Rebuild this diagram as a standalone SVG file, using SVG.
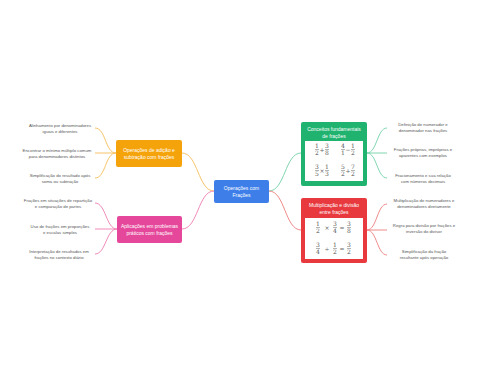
<svg xmlns="http://www.w3.org/2000/svg" width="480" height="384" viewBox="0 0 480 384">
<style>
.box{stroke:none}
.bt{font-family:"Liberation Sans",Arial,sans-serif;font-size:5px;fill:#fff;text-anchor:middle}
.lf{font-family:"Liberation Sans",Arial,sans-serif;font-size:4.3px;fill:#555;text-anchor:middle}
.fr{font-family:"DejaVu Serif","Liberation Serif",serif;font-size:6px;fill:#555;text-anchor:middle}
.op{font-family:"DejaVu Sans","Liberation Sans",sans-serif;font-size:6px;fill:#666;text-anchor:middle}
.bar{stroke:#666;stroke-width:0.5}
.c{fill:none;stroke-width:1}
</style>
<rect width="480" height="384" fill="#fff"/>
<g id="connectors">
<path class="c" stroke="#f7c46a" d="M214,191 C198,191 198,153 182,153"/>
<path class="c" stroke="#f08ab8" d="M214,191 C198,191 198,229 182,229"/>
<path class="c" stroke="#7fd6b0" d="M269,191 C285,191 285,153 301,153"/>
<path class="c" stroke="#f08a8a" d="M269,191 C285,191 285,230 301,230"/>
<path class="c" stroke="#f7c46a" d="M116,153 C105,153 106,128 95,128"/>
<path class="c" stroke="#f7c46a" d="M116,153 L95,153"/>
<path class="c" stroke="#f7c46a" d="M116,153 C105,153 106,178 95,178"/>
<path class="c" stroke="#f08ab8" d="M117,229 C106,229 106,203 95,203"/>
<path class="c" stroke="#f08ab8" d="M117,229 L95,229"/>
<path class="c" stroke="#f08ab8" d="M117,229 C106,229 106,254 95,254"/>
<path class="c" stroke="#7fd6b0" d="M367,153 C377,153 377,128 387,128"/>
<path class="c" stroke="#7fd6b0" d="M367,153 L387,153"/>
<path class="c" stroke="#7fd6b0" d="M367,153 C377,153 377,178 387,178"/>
<path class="c" stroke="#f08a8a" d="M367,230 C377,230 377,204 387,204"/>
<path class="c" stroke="#f08a8a" d="M367,230 L387,230"/>
<path class="c" stroke="#f08a8a" d="M367,230 C377,230 377,255 387,255"/>
</g>
<g id="center">
<rect class="box" x="214" y="180" width="55" height="23" rx="2" fill="#3d7ee8"/>
<text class="bt" x="241.5" y="190">Operações com</text>
<text class="bt" x="241.5" y="197">Frações</text>
</g>
<g id="adicao">
<rect class="box" x="116" y="140" width="66" height="27" rx="2" fill="#f5a30a"/>
<text class="bt" x="149" y="152">Operações de adição e</text>
<text class="bt" x="149" y="158.5">subtração com frações</text>
</g>
<g id="aplicacoes">
<rect class="box" x="117" y="216" width="65" height="27" rx="2" fill="#e5489b"/>
<text class="bt" x="149.5" y="228">Aplicações em problemas</text>
<text class="bt" x="149.5" y="234.5">práticos com frações</text>
</g>
<g id="conceitos">
<rect class="box" x="301" y="122" width="66" height="64" rx="2" fill="#20b36f"/>
<text class="bt" x="334" y="131">Conceitos fundamentais</text>
<text class="bt" x="334" y="137.5">de frações</text>
<rect x="305" y="141" width="58" height="40" fill="#fff"/>
<text class="fr" x="317" y="148">1</text><line class="bar" x1="315" y1="149.5" x2="319" y2="149.5"/><text class="fr" x="317" y="155">2</text>
<text class="op" x="322" y="152">+</text>
<text class="fr" x="327" y="148">3</text><line class="bar" x1="325" y1="149.5" x2="329" y2="149.5"/><text class="fr" x="327" y="155">8</text>
<text class="fr" x="343" y="148">4</text><line class="bar" x1="341" y1="149.5" x2="345" y2="149.5"/><text class="fr" x="343" y="155">1</text>
<text class="op" x="348" y="152">−</text>
<text class="fr" x="353" y="148">1</text><line class="bar" x1="351" y1="149.5" x2="355" y2="149.5"/><text class="fr" x="353" y="155">2</text>
<text class="fr" x="317" y="169">3</text><line class="bar" x1="315" y1="170.5" x2="319" y2="170.5"/><text class="fr" x="317" y="176">5</text>
<text class="op" x="322" y="173">×</text>
<text class="fr" x="327" y="169">1</text><line class="bar" x1="325" y1="170.5" x2="329" y2="170.5"/><text class="fr" x="327" y="176">3</text>
<text class="fr" x="343" y="169">5</text><line class="bar" x1="341" y1="170.5" x2="345" y2="170.5"/><text class="fr" x="343" y="176">2</text>
<text class="op" x="348" y="173">+</text>
<text class="fr" x="353" y="169">7</text><line class="bar" x1="351" y1="170.5" x2="355" y2="170.5"/><text class="fr" x="353" y="176">2</text>
</g>
<g id="multiplicacao">
<rect class="box" x="301" y="198" width="66" height="65" rx="2" fill="#e8393e"/>
<text class="bt" x="334" y="207">Multiplicação e divisão</text>
<text class="bt" x="334" y="213.5">entre frações</text>
<rect x="305" y="218" width="58" height="41" fill="#fff"/>
<text class="fr" x="318" y="226">1</text><line class="bar" x1="316" y1="227.5" x2="320" y2="227.5"/><text class="fr" x="318" y="233">2</text>
<text class="op" x="327" y="230">×</text>
<text class="fr" x="335" y="226">3</text><line class="bar" x1="333" y1="227.5" x2="337" y2="227.5"/><text class="fr" x="335" y="233">4</text>
<text class="op" x="342" y="230">=</text>
<text class="fr" x="349" y="226">3</text><line class="bar" x1="347" y1="227.5" x2="351" y2="227.5"/><text class="fr" x="349" y="233">8</text>
<text class="fr" x="318" y="247">3</text><line class="bar" x1="316" y1="248.5" x2="320" y2="248.5"/><text class="fr" x="318" y="254">4</text>
<text class="op" x="327" y="251">÷</text>
<text class="fr" x="335" y="247">1</text><line class="bar" x1="333" y1="248.5" x2="337" y2="248.5"/><text class="fr" x="335" y="254">2</text>
<text class="op" x="342" y="251">=</text>
<text class="fr" x="349" y="247">3</text><line class="bar" x1="347" y1="248.5" x2="351" y2="248.5"/><text class="fr" x="349" y="254">2</text>
</g>
<g id="leaf-a1"><text class="lf" x="60" y="127">Alinhamento por denominadores</text><text class="lf" x="60" y="133">iguais e diferentes</text></g>
<g id="leaf-a2"><text class="lf" x="57" y="152">Encontrar o mínimo múltiplo comum</text><text class="lf" x="57" y="158">para denominadores distintos</text></g>
<g id="leaf-a3"><text class="lf" x="60" y="177">Simplificação do resultado após</text><text class="lf" x="60" y="183">soma ou subtração</text></g>
<g id="leaf-p1"><text class="lf" x="58" y="202">Frações em situações de repartição</text><text class="lf" x="58" y="208">e comparação de partes</text></g>
<g id="leaf-p2"><text class="lf" x="60" y="228">Uso de frações em proporções</text><text class="lf" x="60" y="234">e escalas simples</text></g>
<g id="leaf-p3"><text class="lf" x="59" y="253">Interpretação de resultados em</text><text class="lf" x="59" y="259">frações no contexto diário</text></g>
<g id="leaf-c1"><text class="lf" x="423" y="126">Definição de numerador e</text><text class="lf" x="423" y="132">denominador nas frações</text></g>
<g id="leaf-c2"><text class="lf" x="423" y="151">Frações próprias, impróprias e</text><text class="lf" x="423" y="157">aparentes com exemplos</text></g>
<g id="leaf-c3"><text class="lf" x="423" y="177">Fracionamento e sua relação</text><text class="lf" x="423" y="183">com números decimais</text></g>
<g id="leaf-m1"><text class="lf" x="424" y="202">Multiplicação de numeradores e</text><text class="lf" x="424" y="208">denominadores diretamente</text></g>
<g id="leaf-m2"><text class="lf" x="424" y="227">Regra para divisão por frações e</text><text class="lf" x="424" y="233">inversão do divisor</text></g>
<g id="leaf-m3"><text class="lf" x="424" y="253">Simplificação da fração</text><text class="lf" x="424" y="259">resultante após operação</text></g>
</svg>
